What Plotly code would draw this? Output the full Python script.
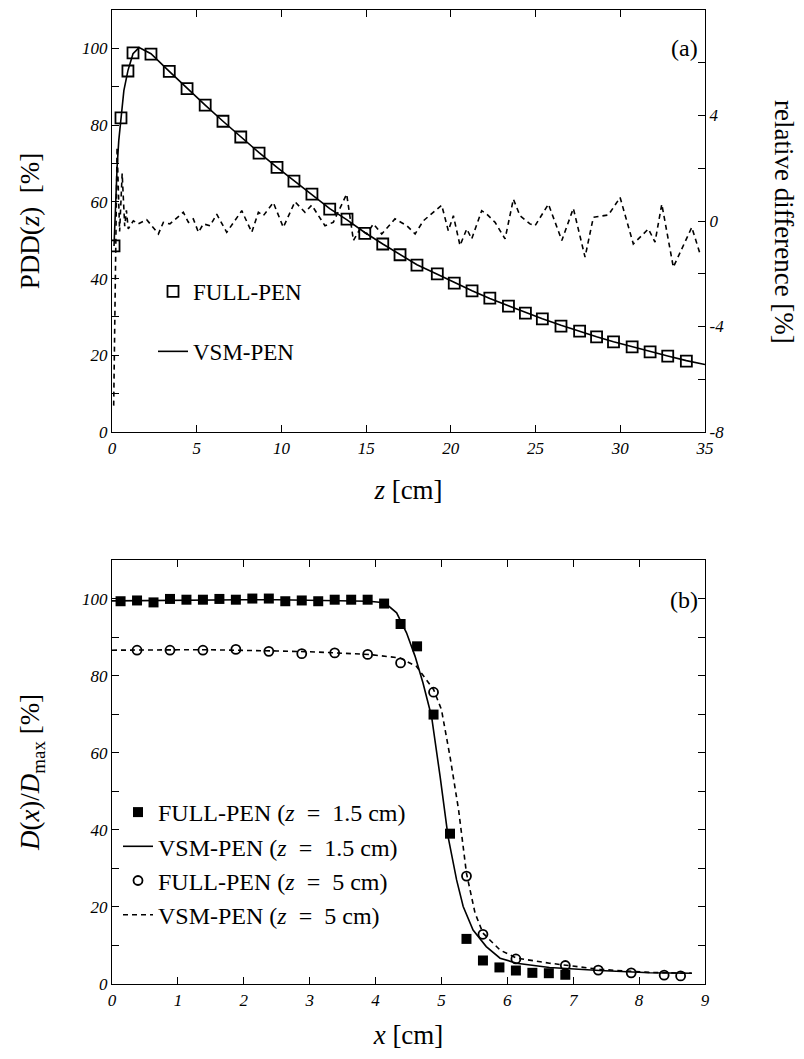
import plotly.graph_objects as go

# ---------------- panel (a) data ----------------
full_z = [0.12, 0.53, 0.94, 1.24, 2.3, 3.38, 4.43, 5.5, 6.55, 7.6, 8.68, 9.74, 10.74, 11.8,
          12.85, 13.87, 14.92, 15.98, 17.0, 18.0, 19.2, 20.2, 21.25, 22.3, 23.4, 24.4, 25.4,
          26.5, 27.6, 28.6, 29.6, 30.7, 31.76, 32.8, 33.9]
full_pdd = [48.5, 81.9, 94.1, 98.8, 98.5, 94.0, 89.5, 85.2, 81.0, 76.9, 72.7, 69.0, 65.4, 62.0,
            58.1, 55.5, 51.8, 49.0, 46.2, 43.5, 41.2, 38.8, 36.8, 34.9, 32.8, 31.0, 29.5,
            27.6, 26.3, 24.8, 23.5, 22.2, 20.9, 19.8, 18.5]

vsm_z = [0.12, 0.2, 0.3, 0.4, 0.53, 0.7, 0.94, 1.24, 1.6, 2.3, 3.38, 4.43, 5.5, 6.55, 7.6, 8.68,
         9.74, 10.74, 11.8, 12.85, 13.87, 14.92, 15.98, 17.0, 18.0, 19.2, 20.2, 21.25, 22.3,
         23.4, 24.4, 25.4, 26.5, 27.6, 28.6, 29.6, 30.7, 31.76, 32.8, 33.9, 35.0]
vsm_pdd = [48.5, 60.0, 69.0, 76.0, 82.0, 89.0, 94.2, 98.6, 100.2, 98.6, 94.0, 89.6, 85.2, 81.0,
           76.9, 72.8, 69.0, 65.5, 62.0, 58.2, 55.3, 52.0, 49.0, 46.2, 43.6, 41.1, 38.9, 36.8,
           34.8, 32.9, 31.1, 29.5, 27.8, 26.2, 24.8, 23.5, 22.2, 20.9, 19.8, 18.6, 17.6]

rd_z = [0.1, 0.3, 0.45, 0.6, 0.75, 0.85, 0.96, 1.26, 1.55, 2.05, 2.74, 3.03, 3.42, 4.21, 4.51,
        4.8, 5.1, 5.39, 5.79, 6.18, 6.77, 7.66, 8.25, 8.64, 8.93, 9.52, 10.11, 10.8, 11.39,
        11.79, 12.57, 13.06, 13.85, 14.25, 14.64, 15.03, 15.43, 15.92, 16.7, 17.4, 17.89,
        18.38, 19.46, 19.85, 20.15, 20.54, 20.94, 21.23, 21.82, 22.12, 22.61, 23.2, 23.69,
        24.08, 24.67, 24.97, 25.76, 26.55, 27.23, 27.92, 28.41, 29.3, 29.99, 30.77, 31.66,
        32.05, 32.45, 33.13, 34.22, 34.71]
rd_val = [-7.0, 2.8, -0.4, 1.8, -0.2, 0.4, -0.3, 0.01, -0.11, 0.05, -0.49, -0.05, -0.11, 0.33,
          -0.05, 0.08, -0.43, -0.11, -0.18, 0.26, -0.43, 0.39, -0.43, 0.33, 0.2, 0.7, -0.24,
          0.73, 0.33, 0.6, -0.18, -0.05, 1.02, -0.74, -0.3, -0.49, -0.11, -0.49, 0.08, -0.18,
          -0.49, 0.01, 0.6, -0.37, 0.2, -0.93, -0.3, -0.68, 0.39, 0.26, -0.05, -0.68, 0.83,
          0.2, -0.11, -0.18, 0.64, -0.74, 0.48, -1.37, 0.14, 0.23, 0.89, -0.87, -0.3, -0.8,
          0.64, -1.75, -0.24, -1.25]

# ---------------- panel (b) data ----------------
full15_x = [0.13, 0.38, 0.63, 0.88, 1.13, 1.38, 1.63, 1.88, 2.13, 2.38, 2.63, 2.88, 3.13, 3.38,
            3.63, 3.88, 4.13, 4.38, 4.63, 4.88, 5.13, 5.38, 5.63, 5.88, 6.13, 6.38, 6.63, 6.88]
full15_d = [99.3, 99.5, 99.0, 99.9, 99.7, 99.7, 99.9, 99.7, 100.0, 100.0, 99.3, 99.5, 99.3, 99.7,
            99.7, 99.7, 98.7, 93.4, 87.6, 69.9, 39.0, 11.7, 6.1, 4.3, 3.5, 2.9, 2.8, 2.4]

vsm15_x = [0, 0.5, 1, 1.5, 2, 2.5, 3, 3.5, 3.9, 4.14, 4.32, 4.47, 4.6, 4.72, 4.85, 4.98, 5.1,
           5.23, 5.33, 5.48, 5.68, 5.89, 6.14, 6.64, 7.4, 8.16, 8.8]
vsm15_d = [99.4, 99.5, 99.6, 99.6, 99.7, 99.7, 99.6, 99.5, 99.3, 98.9, 96.3, 91.1, 85.0, 78.1,
           69.4, 53.8, 38.3, 27.0, 20.1, 14.0, 9.7, 6.7, 5.4, 4.3, 3.5, 2.9, 2.8]

full5_x = [0.38, 0.88, 1.38, 1.88, 2.38, 2.88, 3.38, 3.88, 4.38, 4.88, 5.38, 5.63, 6.13, 6.88,
           7.38, 7.88, 8.38, 8.63]
full5_d = [86.6, 86.6, 86.6, 86.8, 86.3, 85.7, 85.9, 85.5, 83.3, 75.7, 28.0, 12.9, 6.5, 4.8,
           3.6, 2.9, 2.3, 2.1]

vsm5_x = [0, 0.5, 1, 1.5, 2, 2.5, 3, 3.5, 3.9, 4.37, 4.62, 4.88, 5.0, 5.13, 5.26, 5.38, 5.51,
          5.63, 5.89, 6.14, 6.64, 7.4, 8.16, 8.8]
vsm5_d = [86.6, 86.7, 86.7, 86.7, 86.6, 86.4, 86.2, 85.9, 85.5, 84.6, 82.4, 76.4, 71.2, 59.0,
          45.2, 28.7, 18.4, 13.2, 8.8, 6.7, 5.4, 3.8, 3.0, 2.8]

rd_ticks = [-8, -4, 0, 4, 8]
rd_ticktext = ["-8", "-4", "0", "4", "8"]

# ---------------- figure ----------------
OFF = 8                      # page body margin of the html page
W, H = 804 - OFF, 1059 - OFF
ML, MT = 112 - OFF, 10 - OFF
PR, PB = 705 - OFF, 984 - OFF   # right / bottom edge of plot area (figure px)
MR, MB = W - PR, H - PB
PW = W - ML - MR
PH = H - MT - MB


def px(xp):
    return (xp - OFF - ML) / PW


def py(yp):
    return 1 - (yp - OFF - MT) / PH


SERIF = "Liberation Serif, Times New Roman, DejaVu Serif, serif"
tickfont = dict(family=SERIF, size=17, color="black", style="italic")
titlefont = dict(family=SERIF, size=27, color="black")
legfont_a = dict(family=SERIF, size=23, color="black")
legfont_b = dict(family=SERIF, size=24, color="black")
EQ = "&nbsp;&nbsp;=&nbsp;&nbsp;"

fig = go.Figure()

fig.add_trace(go.Scatter(
    x=rd_z, y=rd_val, mode="lines", yaxis="y2", xaxis="x",
    line=dict(color="black", width=1.6, dash="5px,4px"), showlegend=False))
fig.add_trace(go.Scatter(
    x=full_z, y=full_pdd, mode="markers", name="FULL-PEN", xaxis="x", yaxis="y",
    marker=dict(symbol="square-open", size=11, color="black", line=dict(width=1.8)),
    legend="legend", legendgroup="a1"))
fig.add_trace(go.Scatter(
    x=vsm_z, y=vsm_pdd, mode="lines", name="VSM-PEN", xaxis="x", yaxis="y",
    line=dict(color="black", width=1.6), legend="legend", legendgroup="a2"))

fig.add_trace(go.Scatter(
    x=full15_x, y=full15_d, mode="markers", name="FULL-PEN (<i>z</i>" + EQ + "1.5 cm)",
    xaxis="x2", yaxis="y3",
    marker=dict(symbol="square", size=10, color="black"),
    legend="legend2", legendgroup="b1"))
fig.add_trace(go.Scatter(
    x=vsm15_x, y=vsm15_d, mode="lines", name="VSM-PEN (<i>z</i>" + EQ + "1.5 cm)",
    xaxis="x2", yaxis="y3", line=dict(color="black", width=1.6),
    legend="legend2", legendgroup="b2"))
fig.add_trace(go.Scatter(
    x=full5_x, y=full5_d, mode="markers", name="FULL-PEN (<i>z</i>" + EQ + "5 cm)",
    xaxis="x2", yaxis="y3",
    marker=dict(symbol="circle-open", size=9, color="black", line=dict(width=1.8)),
    legend="legend2", legendgroup="b3"))
fig.add_trace(go.Scatter(
    x=vsm5_x, y=vsm5_d, mode="lines", name="VSM-PEN (<i>z</i>" + EQ + "5 cm)",
    xaxis="x2", yaxis="y3", line=dict(color="black", width=1.6, dash="5px,4px"),
    legend="legend2", legendgroup="b4"))

axis_common = dict(showline=True, linecolor="black", linewidth=1.2, ticks="inside",
                   ticklen=7, tickwidth=1, tickcolor="black", showgrid=False,
                   zeroline=False, tickfont=tickfont)

top_dom = [py(432), 1.0]
bot_dom = [0.0, py(560)]

fig.update_layout(
    width=W, height=H, margin=dict(l=ML, r=MR, t=MT, b=MB, autoexpand=False),
    paper_bgcolor="white", plot_bgcolor="white",
    xaxis=dict(range=[0, 35], dtick=5, tick0=0, domain=[0, 1], anchor="y", mirror="ticks",
               title=dict(text="<i>z</i> [cm]", font=titlefont, standoff=23), **axis_common),
    yaxis=dict(range=[0, 110], dtick=20, tick0=0, domain=top_dom, anchor="x", mirror=True,
               minor=dict(dtick=10, tick0=0, ticks="inside", ticklen=7, tickcolor="black"),
               title=dict(text="PDD(<i>z</i>)&nbsp;&nbsp;[%]", font=titlefont, standoff=34),
               **axis_common),
    yaxis2=dict(range=[-8, 8], tickmode="array", tickvals=rd_ticks, ticktext=rd_ticktext,
                overlaying="y", side="right", anchor="x",
                minor=dict(tickmode="linear", dtick=2, tick0=0, ticks="inside", ticklen=7,
                           tickcolor="black"), **axis_common),
    xaxis2=dict(range=[0, 9], dtick=1, tick0=0, domain=[0, 1], anchor="y3", mirror="ticks",
                title=dict(text="<i>x</i> [cm]", font=titlefont, standoff=16), **axis_common),
    yaxis3=dict(range=[0, 110], dtick=20, tick0=0, domain=bot_dom, anchor="x2", mirror="ticks",
                minor=dict(dtick=10, tick0=0, ticks="inside", ticklen=7, tickcolor="black"),
                title=dict(text="<i>D</i>(<i>x</i>)/<i>D</i><sub>max</sub> [%]", font=titlefont,
                           standoff=34), **axis_common),
    legend=dict(x=px(153), y=py(270), xanchor="left", yanchor="top", font=legfont_a,
                bgcolor="rgba(0,0,0,0)", tracegroupgap=27, traceorder="grouped"),
    legend2=dict(x=px(118), y=py(790), xanchor="left", yanchor="top", font=legfont_b,
                 bgcolor="rgba(0,0,0,0)", tracegroupgap=0, traceorder="grouped"),
    annotations=[
        dict(text="(a)", x=px(684), y=py(48), xref="paper", yref="paper", showarrow=False,
             xanchor="center", yanchor="middle", font=dict(family=SERIF, size=24, color="black")),
        dict(text="(b)", x=px(684), y=py(600), xref="paper", yref="paper", showarrow=False,
             xanchor="center", yanchor="middle", font=dict(family=SERIF, size=24, color="black")),
        dict(text="relative difference [%]", x=px(784), y=py(222), xref="paper", yref="paper",
             showarrow=False, textangle=90, xanchor="center", yanchor="middle", font=titlefont),
    ],
)

fig.write_html("out.html")
